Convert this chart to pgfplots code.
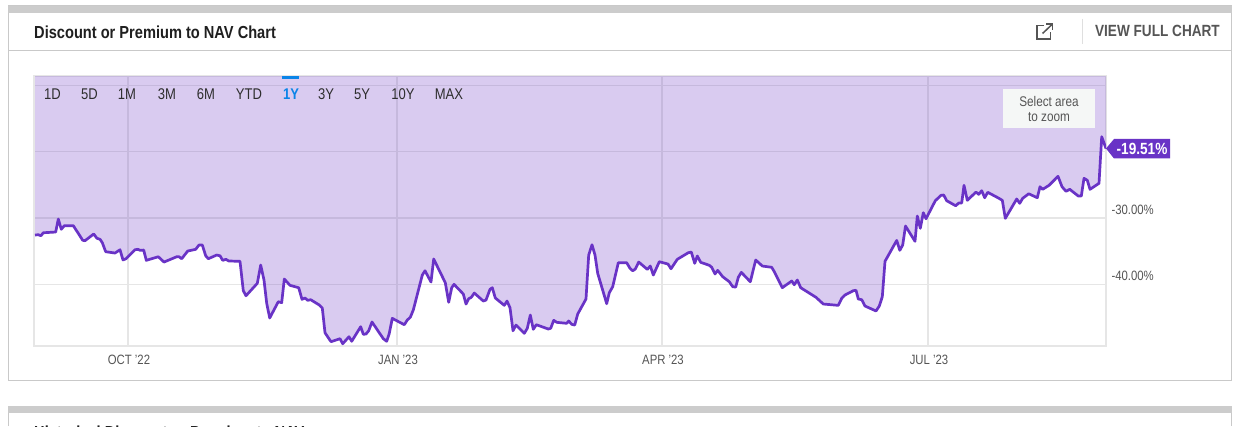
\documentclass[border=0pt]{standalone}
\usepackage{fontspec}
\setmainfont[FakeStretch=0.84]{Liberation Sans}
\usepackage{pgfplots}
\pgfplotsset{compat=1.18}
\usepackage{pgfplotstable}

\definecolor{ser}{HTML}{6933C6}
\definecolor{cardline}{HTML}{C9C9C9}
\definecolor{bar}{HTML}{CCCCCC}
\definecolor{gridc}{HTML}{E6E6E6}
\definecolor{txt}{HTML}{555555}
\definecolor{btn}{HTML}{2E2E2E}
\definecolor{sel}{HTML}{0A84E8}
\definecolor{hint}{HTML}{F5F7F6}

% x = position along the time axis, y = premium/discount in percent
\pgfplotstableread{
x y
35 -32.56
38.3 -32.52
41 -32.67
43.3 -32.22
55.7 -32.11
58.3 -30.15
61.3 -31.70
64.3 -31.16
73.3 -31.16
78.3 -32.31
82.7 -33.36
85 -33.42
93.7 -32.41
97 -33.06
100 -33.21
102.3 -33.72
105.7 -35.08
115 -35.28
120 -34.78
123 -36.33
126 -36.14
135 -34.78
138 -34.72
140 -34.87
143.7 -34.83
146.3 -36.38
158.3 -35.84
164 -36.64
176.7 -35.84
179 -35.84
181.7 -36.14
187.7 -34.98
195.7 -34.72
199 -34.07
202.3 -34.07
205.7 -35.69
208.3 -36.14
216.7 -35.58
220 -35.69
222.7 -36.38
226 -36.23
228.7 -36.48
240 -36.53
243.3 -40.96
246 -41.72
257.3 -39.85
260.7 -37.09
264 -39.35
266.7 -42.86
269.7 -45.08
278.3 -42.62
281.7 -42.77
284.3 -39.20
290 -40.15
298.7 -40.51
302 -42.26
305 -42.06
307.7 -42.41
310.7 -42.32
319.3 -43.12
322.3 -43.57
325 -47.30
331 -48.65
340 -48.20
342.7 -48.96
349 -47.90
351.7 -48.59
360.7 -46.39
363.3 -47.54
366 -47.49
368.7 -47.00
372 -45.68
383.3 -48.20
386.7 -48.59
389.3 -47.39
392.3 -45.13
404.3 -46.09
407.3 -45.38
410.3 -44.97
413.3 -43.87
422.3 -38.60
425 -37.95
431 -39.65
433.7 -36.18
445.3 -39.76
448.7 -42.71
451.7 -40.51
454 -40.00
463.3 -41.46
466 -42.97
468.7 -42.17
471.3 -41.96
474.3 -41.31
483.3 -42.52
486 -42.37
490 -40.75
492.3 -40.51
495.3 -42.06
504.3 -43.17
507 -42.52
510 -43.53
513 -47.00
516 -46.14
524.3 -47.39
527.3 -46.63
530.3 -44.63
533.3 -46.78
536.3 -46.09
548.3 -46.74
550.7 -46.63
553.7 -45.43
556.7 -45.73
566.7 -45.88
568.7 -45.53
571.7 -46.03
574.7 -46.14
577.7 -44.48
586 -42.21
588.7 -35.58
592 -34.03
595 -35.58
597.7 -38.34
606.7 -42.92
609.3 -41.26
612.7 -40.36
618.3 -36.74
626.7 -36.74
630 -37.59
632.7 -37.95
635.3 -37.69
638.7 -36.64
647.3 -37.74
650.3 -37.24
653.3 -38.60
659.3 -36.59
668 -36.94
671 -37.65
677.3 -36.23
688.3 -35.23
691.3 -35.13
694.7 -36.83
697.3 -35.73
700.7 -36.68
709.3 -37.13
711.7 -37.43
715 -38.44
717.7 -37.89
722.7 -38.85
729.3 -39.61
732.7 -40.36
735.7 -40.41
738.3 -38.94
741.3 -38.19
750.3 -39.61
755.7 -36.33
762.3 -37.24
771.7 -37.43
774.3 -38.10
782.3 -40.51
791.7 -39.50
794.3 -40.06
797.3 -39.35
800.7 -40.51
816 -41.96
823.3 -42.97
838.3 -43.17
841.7 -42.11
845 -41.61
853.3 -40.96
856 -40.90
858.3 -42.21
861.7 -42.32
865 -43.27
876 -44.02
879.3 -43.27
882.3 -41.87
885 -36.53
896.7 -33.38
899.8 -34.87
902.7 -34.07
905.5 -31.21
915 -33.51
917.3 -29.70
920.3 -31.55
923.3 -29.20
926 -30.11
935.3 -27.39
941 -26.58
943.7 -26.53
946.7 -27.39
955.7 -28.15
958.7 -27.74
961.7 -27.74
964 -25.07
967.3 -27.33
976 -26.08
978.7 -26.43
981.7 -25.88
984.7 -26.94
987.7 -26.12
999 -27.03
1002.3 -27.33
1005.3 -30.05
1016.7 -27.13
1019.7 -27.78
1022.7 -27.03
1028.7 -26.34
1037.3 -26.94
1040 -25.28
1042.7 -25.67
1049 -25.07
1058 -23.71
1062 -25.28
1066 -25.97
1069.7 -25.67
1078.3 -26.68
1081.3 -26.68
1084 -24.01
1087.3 -24.31
1090 -25.67
1099 -24.77
1101.7 -17.74
1106 -19.51
}\navdata

\begin{document}
\begin{tikzpicture}[x=1pt,y=1pt]
\fill[white] (0,0) rectangle (1242,426);
% cards
\draw[cardline,line width=1pt] (8.5,426-380.5) rectangle (1231.5,426-6);
\fill[bar] (8,426-13) rectangle (1232,426-6);
\draw[cardline,line width=1pt] (8.5,426-50.5) -- (1231.5,426-50.5);
\draw[cardline!60,line width=1pt] (1082.5,426-19) -- (1082.5,426-44);
\fill[bar] (8,426-413) rectangle (1232,426-406);
\draw[cardline,line width=1pt] (8.5,0) -- (8.5,426-413);
\draw[cardline,line width=1pt] (1231.5,0) -- (1231.5,426-413);
\node[anchor=west,font=\bfseries\fontsize{17.4}{20}\selectfont,text=black!88,inner sep=0pt] at (34,426-32) {Discount or Premium to NAV Chart};
\node[anchor=east,font=\bfseries\fontsize{16.2}{18}\selectfont,text=txt,inner sep=0pt] at (1220,426-31) {VIEW FULL CHART};
% open-in-new icon
\draw[txt,line width=1.5pt] (1044,426-25.5) -- (1037,426-25.5) -- (1037,426-39) -- (1050.5,426-39) -- (1050.5,426-32);
\draw[txt,line width=1.5pt] (1042.5,426-33.5) -- (1052,426-24.5);
\draw[txt,line width=1.5pt] (1046,426-24.2) -- (1052.3,426-24.2) -- (1052.3,426-30.5);

\begin{axis}[
    at={(34pt,80pt)},
    anchor=south west,
    scale only axis,
    width=1072pt,
    height=270pt,
    xmin=34, xmax=1106,
    ymin=-49.3, ymax=-8.58,
    axis lines=box,
    axis line style={gridc,line width=1.1pt},
    grid=major,
    grid style={gridc,line width=1.1pt},
    tick style={draw=none},
    xtick={128,397,662,928},
    xticklabels={OCT '22,JAN '23,APR '23,JUL '23},
    ytick={-40,-30,-20,-10},
    yticklabels={-40.00\%,-30.00\%,,},
    ytick pos=right,
    xtick pos=bottom,
    ticklabel style={font=\fontsize{13.5}{15}\selectfont,text=txt},
    /pgf/number format/assume math mode=true,
    xticklabel shift=6pt,
    xticklabel style={xshift=1pt},
    yticklabel shift=2pt,
    yticklabel style={anchor=west,yshift=8pt},
]
\addplot[ser,fill=ser,fill opacity=0.25,draw=none] table[x=x,y=y] {\navdata}
    -- (axis cs:1106,-8.58) -- (axis cs:35,-8.58) -- cycle;
\addplot[ser,line width=2.7pt,line join=round] table[x=x,y=y] {\navdata};
\end{axis}

% range selector
\fill[sel] (282,426-79) rectangle (299,426-76);
\foreach \xx/\lab in {52.5/1D,89.5/5D,127/1M,167/3M,206/6M,249/YTD,326/3Y,362/5Y,403/10Y,449/MAX}
  \node[font=\fontsize{15.5}{17}\selectfont,text=btn,inner sep=0pt] at (\xx,426-94.5) {\lab};
\node[font=\bfseries\fontsize{15.5}{17}\selectfont,text=sel,inner sep=0pt] at (291,426-94.5) {1Y};
% zoom hint
\fill[hint] (1003,426-128) rectangle (1095,426-89);
\node[align=center,font=\fontsize{14}{15}\selectfont,text=txt,inner sep=0pt] at (1049,426-108.5) {Select area\\to zoom};
% last value flag
\fill[ser] (1106,426-148.5) -- (1114,426-139) -- (1170,426-139) -- (1170,426-158.5) -- (1114,426-158.5) -- cycle;
\node[font=\bfseries\fontsize{16.2}{18}\selectfont,text=white,inner sep=0pt] at (1142,426-149) {-19.51\%};
% next card heading, cut off by the lower edge
\begin{scope}
\clip (0,0) rectangle (1242,426);
\node[anchor=west,font=\bfseries\fontsize{17.4}{20}\selectfont,text=black!88,inner sep=0pt] at (34,426-432) {Historical Discount or Premium to NAV};
\end{scope}
\pgfresetboundingbox
\useasboundingbox (0,0) rectangle (1242,426);
\end{tikzpicture}
\end{document}
